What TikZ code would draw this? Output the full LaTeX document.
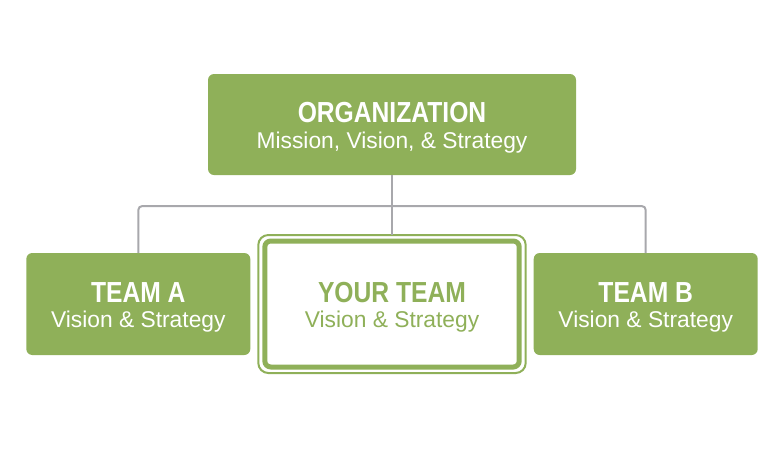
\documentclass[tikz,border=0pt]{standalone}
\usepackage{fontspec}
\setmainfont{Liberation Sans}
\newfontfamily\condfont[FakeStretch=0.85]{Liberation Sans}
\usetikzlibrary{positioning}
\definecolor{leaf}{RGB}{143,176,89}
\definecolor{wire}{RGB}{168,168,172}
\newcommand{\boxtitle}[1]{{\fontsize{29}{25.4}\condfont\bfseries\rule{0pt}{27pt}#1}}
\tikzset{
  block/.style={
    rectangle,
    rounded corners=6pt,
    fill=leaf,
    text=white,
    minimum width=224pt,
    minimum height=102pt,
    align=center,
    inner sep=0pt,
    outer sep=0pt,
    font=\fontsize{22.8}{25.4}\selectfont
  },
  topblock/.style={block, minimum width=368pt, minimum height=101pt},
  ownblock/.style={
    block,
    fill=white,
    draw=leaf,
    line width=5pt,
    text=leaf,
    minimum width=254.4pt,
    minimum height=126pt
  },
  ownframe/.style={
    draw=leaf,
    rectangle,
    line width=2pt,
    rounded corners=10pt,
    minimum width=267.4pt,
    minimum height=138pt,
    outer sep=0pt
  },
  link/.style={
    draw=wire,
    line width=2pt,
    rounded corners=4pt
  }
}

\begin{document}
\begin{tikzpicture}[x=1pt, y=-1pt]
    \useasboundingbox (0,0) rectangle (783,448);
    \node[topblock] (org) at (392,124.5) {\boxtitle{ORGANIZATION}\\Mission, Vision, \& Strategy};
    \node[ownblock, below=66pt of org] (your) {\boxtitle{YOUR TEAM}\\Vision \& Strategy};
    \node[ownframe] (yourframe) at (your) {};
    \node[block, left=14.5pt of your] (teamA) {\boxtitle{TEAM A}\\Vision \& Strategy};
    \node[block, right=14.5pt of your] (teamB) {\boxtitle{TEAM B}\\Vision \& Strategy};

    \draw[link] (org.south) -- ++(0,31) coordinate (bus);
    \draw[link] (teamA.north) |- (bus) -| (teamB.north);
    \draw[link] (bus) -- (yourframe.north);
\end{tikzpicture}
\end{document}
